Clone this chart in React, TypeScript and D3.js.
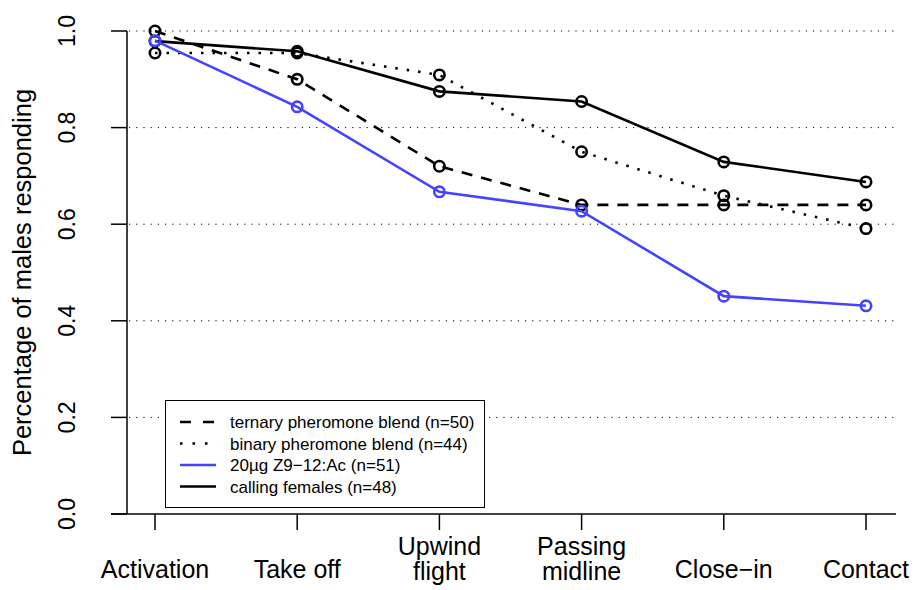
import React from "react";
import * as d3 from "d3";

const categories: string[][] = [
  ["Activation"],
  ["Take off"],
  ["Upwind", "flight"],
  ["Passing", "midline"],
  ["Close\u2212in"],
  ["Contact"],
];

const ternary = [1.0, 0.9, 0.72, 0.64, 0.64, 0.64];
const binary = [0.9545, 0.9545, 0.909, 0.75, 0.659, 0.591];
const zAc = [0.98, 0.843, 0.667, 0.627, 0.451, 0.431];
const calling = [0.979, 0.958, 0.875, 0.854, 0.729, 0.6875];

const yTicks = [0, 0.2, 0.4, 0.6, 0.8, 1.0];
const gridTicks = [0.2, 0.4, 0.6, 0.8, 1.0];

const legendLabels = [
  "ternary pheromone blend (n=50)",
  "binary pheromone blend (n=44)",
  "20\u00b5g Z9\u221212:Ac (n=51)",
  "calling females (n=48)",
];

const BLUE = "#4444ff";
const FONT = "'Liberation Sans', Arial, Helvetica, sans-serif";

export default function App() {
  const x = d3.scaleLinear().domain([0, 5]).range([155, 866]);
  const y = d3.scaleLinear().domain([0, 1]).range([514, 31]);
  const line = d3
    .line<number>()
    .x((_, i) => x(i))
    .y((d) => y(d));

  const series = [
    { data: ternary, color: "#000", dash: "11 9" },
    { data: binary, color: "#000", dash: "2.5 9" },
    { data: calling, color: "#000", dash: undefined },
    { data: zAc, color: BLUE, dash: undefined },
  ];
  const legendStyles = [
    { color: "#000", dash: "11 12" },
    { color: "#000", dash: "2.5 10" },
    { color: BLUE, dash: undefined },
    { color: "#000", dash: undefined },
  ];

  return (
    <svg
      width={914}
      height={590}
      style={{ position: "absolute", left: 0, top: 0, background: "#fff" }}
      fontFamily={FONT}
    >
      <rect x={0} y={0} width={914} height={590} fill="#fff" />
      {gridTicks.map((t) => (
        <line
          key={"g" + t}
          x1={129}
          x2={894}
          y1={y(t)}
          y2={y(t)}
          stroke="#000"
          strokeWidth={1}
          strokeDasharray="1.2 6"
        />
      ))}
      {/* y axis */}
      <line x1={127} x2={127} y1={y(1)} y2={y(0)} stroke="#000" strokeWidth={1.5} />
      {yTicks.map((t) => (
        <g key={"yt" + t}>
          <line x1={111} x2={127} y1={y(t)} y2={y(t)} stroke="#000" strokeWidth={1.5} />
          <text
            transform={`translate(75,${y(t)}) rotate(-90)`}
            textAnchor="middle"
            fontSize={23}
          >
            {t.toFixed(1)}
          </text>
        </g>
      ))}
      <text
        transform={`translate(31,${(y(0) + y(1)) / 2}) rotate(-90)`}
        textAnchor="middle"
        fontSize={25.5}
      >
        Percentage of males responding
      </text>
      {/* x axis */}
      <line x1={111} x2={896} y1={514} y2={514} stroke="#000" strokeWidth={1.5} />
      {categories.map((c, i) => (
        <g key={"xt" + i}>
          <line x1={x(i)} x2={x(i)} y1={514} y2={530} stroke="#000" strokeWidth={1.5} />
          {c.map((s, j) => (
            <text
              key={j}
              x={x(i)}
              y={c.length === 1 ? 578 : 555 + j * 25}
              textAnchor="middle"
              fontSize={25}
            >
              {s}
            </text>
          ))}
        </g>
      ))}
      {/* series */}
      {series.map((s, k) => (
        <g key={"s" + k}>
          <path
            d={line(s.data) || ""}
            fill="none"
            stroke={s.color}
            strokeWidth={2.6}
            strokeDasharray={s.dash}
          />
          {s.data.map((v, i) => (
            <circle
              key={i}
              cx={x(i)}
              cy={y(v)}
              r={5.2}
              fill="none"
              stroke={s.color}
              strokeWidth={2.6}
            />
          ))}
        </g>
      ))}
      {/* legend */}
      <rect x={165.5} y={400.5} width={319} height={107} fill="#fff" stroke="#000" strokeWidth={1} />
      {legendLabels.map((l, i) => (
        <g key={"l" + i}>
          <line
            x1={180}
            x2={216}
            y1={422 + i * 21.5}
            y2={422 + i * 21.5}
            stroke={legendStyles[i].color}
            strokeWidth={2.6}
            strokeDasharray={legendStyles[i].dash}
          />
          <text x={230} y={422 + i * 21.5 + 6} fontSize={17}>
            {l}
          </text>
        </g>
      ))}
    </svg>
  );
}
